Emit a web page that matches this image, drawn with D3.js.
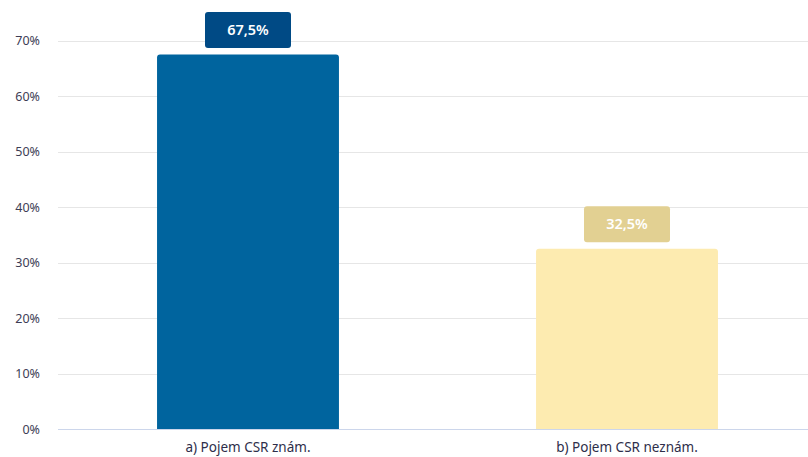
<!DOCTYPE html>
<html>
<head>
<meta charset="utf-8">
<script src="https://cdn.jsdelivr.net/npm/d3@7"></script>
<style>
	body { margin: 0; background: #fff; }
	svg { display: block; font-family: "Noto Sans", Lato, sans-serif; }
</style>
</head>
<body>
<svg width="808" height="457"></svg>
<script>
'use strict';
// chart data
let categories = ["a) Pojem CSR znám.", "b) Pojem CSR neznám."]
let values = [67.5, 32.5]
let barColors = ["#00649e", "#fdebb0"]
let labelColors = ["#004a85", "#e2d092"]
let yTicks = [0, 10, 20, 30, 40, 50, 60, 70]

let eSvg = d3.select("svg"),
	dWidth = +eSvg.attr("width"),
	dHeight = +eSvg.attr("height")

let x = d3.scaleBand()
	.domain(categories)
	.range([58.5, 816.5])
	.paddingInner(0.52)
	.paddingOuter(0.26)

let y = d3.scaleLinear()
	.domain([0, 70])
	.range([429.3, 40.5])

// gridlines
eSvg.append("g")
	.selectAll("line")
	.data(yTicks.slice(1))
	.enter().append("line")
	.attr("x1", 58).attr("x2", dWidth)
	.attr("y1", d => Math.round(y(d)) + 0.5)
	.attr("y2", d => Math.round(y(d)) + 0.5)
	.attr("stroke", "#e6e6e6")

// y tick labels
eSvg.append("g")
	.selectAll("text")
	.data(yTicks)
	.enter().append("text")
	.attr("x", 40)
	.attr("y", d => y(d) + 4.5)
	.attr("text-anchor", "end")
	.attr("font-size", 12.5)
	.attr("fill", "#3d3d55")
	.text(d => d + "%")

// bars with rounded top corners
function barPath(x0, y0, w, h, r) {
	return `M${x0},${y0 + h}V${y0 + r}Q${x0},${y0} ${x0 + r},${y0}H${x0 + w - r}Q${x0 + w},${y0} ${x0 + w},${y0 + r}V${y0 + h}Z`
}
eSvg.append("g")
	.selectAll("path")
	.data(values)
	.enter().append("path")
	.attr("d", (d, i) => barPath(x(categories[i]), y(d), x.bandwidth(), y(0) - y(d), 3))
	.attr("fill", (d, i) => barColors[i])

// x axis line
eSvg.append("line")
	.attr("x1", 58).attr("x2", dWidth)
	.attr("y1", 429.5).attr("y2", 429.5)
	.attr("stroke", "#ccd6eb")

// category labels
eSvg.append("g")
	.selectAll("text")
	.data(categories)
	.enter().append("text")
	.attr("x", d => x(d) + x.bandwidth() / 2)
	.attr("y", 452)
	.attr("text-anchor", "middle")
	.attr("font-size", 13.5)
	.attr("fill", "#2e2e4a")
	.text(d => d)

// value labels in boxes
let eLabels = eSvg.append("g")
	.selectAll("g")
	.data(values)
	.enter().append("g")
	.attr("transform", (d, i) => `translate(${x(categories[i]) + x.bandwidth() / 2},${y(d) - 6.5})`)
eLabels.append("rect")
	.attr("x", -43).attr("y", -36)
	.attr("width", 86).attr("height", 36)
	.attr("rx", 3)
	.attr("fill", (d, i) => labelColors[i])
eLabels.append("text")
	.attr("y", -13)
	.attr("text-anchor", "middle")
	.attr("font-size", 14.5)
	.attr("font-weight", 600)
	.attr("fill", "#fff")
	.text(d => d3.format(".1f")(d).replace(".", ",") + "%")
</script>
</body>
</html>
